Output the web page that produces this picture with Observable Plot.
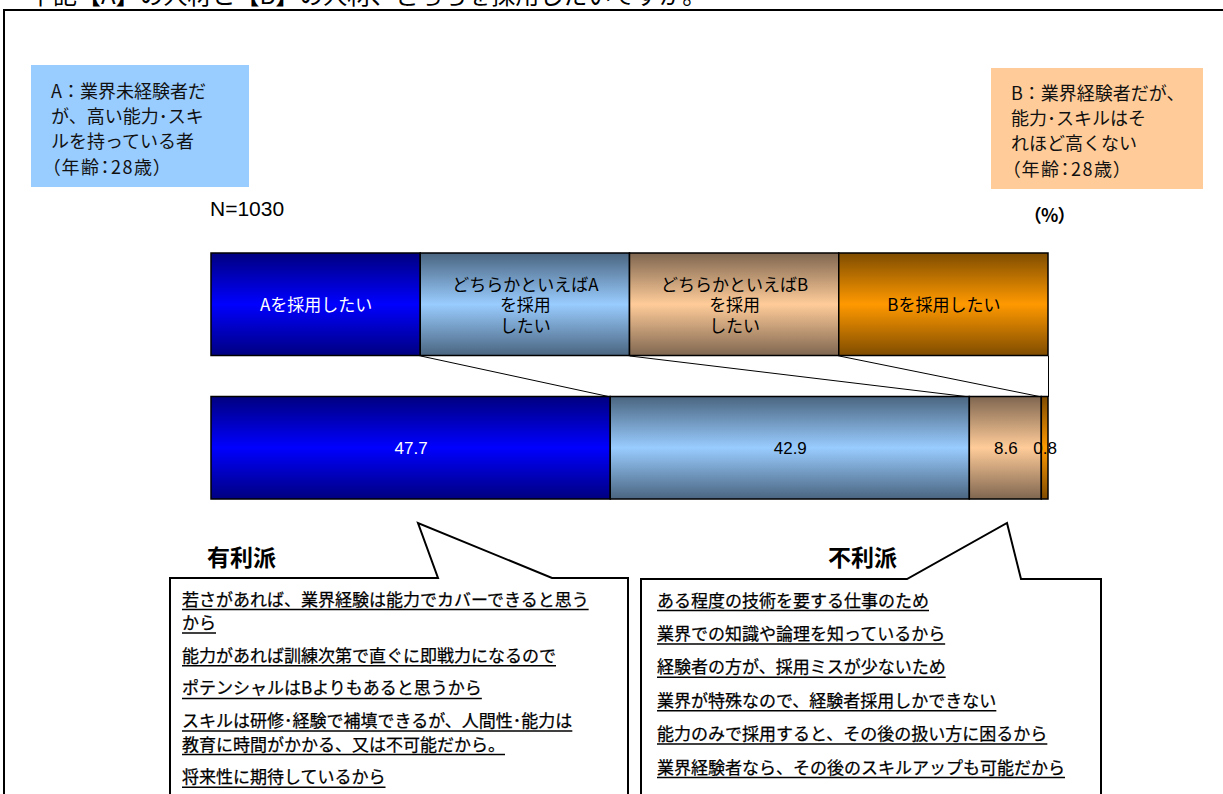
<!DOCTYPE html>
<html><head><meta charset="utf-8">
<script src="https://cdn.jsdelivr.net/npm/d3@7"></script>
<script src="https://cdn.jsdelivr.net/npm/@observablehq/plot@0.6"></script>
<style>
html,body{margin:0;padding:0;background:#fff;overflow:hidden}
#wrap{position:relative;width:1223px;height:794px;overflow:hidden;background:#fff}
#wrap > svg{position:absolute;left:0;top:0}
</style></head><body><div id="wrap"></div>
<script>
// ---------- data ----------
const title = "下記【A】の人材と【B】の人材、どちらを採用したいですか。";
const categories = ["Aを採用したい", "どちらかといえばAを採用したい", "どちらかといえばBを採用したい", "Bを採用したい"];
const legendLabels = ["Aを採用したい", "どちらかといえばA\nを採用\nしたい", "どちらかといえばB\nを採用\nしたい", "Bを採用したい"];
const values = [47.7, 42.9, 8.6, 0.8];
const barColors = [["#000080", "#0000FF"], ["#4A6580", "#99CCFF"], ["#7F6650", "#FFCC99"], ["#7F4C00", "#FF9900"]];
const labelColors = ["#ffffff", "#000000", "#000000", "#000000"];
const sampleLabel = "N=1030";
const unitLabel = "（%）";
const boxALines = ["A：業界未経験者だ", "が、高い能力･スキ", "ルを持っている者", "（年齢：28歳）"];
const boxBLines = ["B：業界経験者だが、", "能力･スキルはそ", "れほど高くない", "（年齢：28歳）"];
const proHeading = "有利派";
const conHeading = "不利派";
const proReasons = [
  ["若さがあれば、業界経験は能力でカバーできると思う", "から"],
  ["能力があれば訓練次第で直ぐに即戦力になるので"],
  ["ポテンシャルはBよりもあると思うから"],
  ["スキルは研修･経験で補填できるが、人間性･能力は", "教育に時間がかかる、又は不可能だから。"],
  ["将来性に期待しているから"]
];
const conReasons = [
  ["ある程度の技術を要する仕事のため"],
  ["業界での知識や論理を知っているから"],
  ["経験者の方が、採用ミスが少ないため"],
  ["業界が特殊なので、経験者採用しかできない"],
  ["能力のみで採用すると、その後の扱い方に困るから"],
  ["業界経験者なら、その後のスキルアップも可能だから"]
];

// ---------- derived rows ----------
const JP = "'Noto Sans CJK JP', 'Noto Sans', sans-serif";
const share = 100 / categories.length;
let acc = 0;
const rows = categories.map((c, i) => {
  const r = {cat: c, label: legendLabels[i], value: values[i], i,
    lx1: i * share, lx2: (i + 1) * share, dx1: acc, dx2: acc + values[i],
    fill: `url(#grad${i})`, color: labelColors[i]};
  acc += values[i];
  return r;
});
const links = rows.map(r => ({a: r.lx2, b: r.dx2}));

const defs = () => {
  const d = d3.create("svg:defs");
  barColors.forEach(([dark, light], i) => {
    const g = d.append("linearGradient").attr("id", `grad${i}`).attr("x1", 0).attr("x2", 0).attr("y1", 0).attr("y2", 1);
    g.append("stop").attr("offset", "0%").attr("stop-color", dark);
    g.append("stop").attr("offset", "50%").attr("stop-color", light);
    g.append("stop").attr("offset", "100%").attr("stop-color", dark);
  });
  return d.node();
};

const chart = Plot.plot({
  width: 1223, height: 794, margin: 0,
  style: {background: "transparent", fontFamily: JP},
  x: {domain: [0, 100], range: [211, 1048], axis: null},
  y: {domain: [0, 2.4], range: [253, 499], axis: null},
  color: {type: "identity"},
  marks: [
    defs,
    Plot.link(links, {x1: "a", x2: "b", y1: () => 1, y2: () => 1.4, stroke: "#000", strokeWidth: 1}),
    Plot.rect(rows, {x1: "lx1", x2: "lx2", y1: () => 0, y2: () => 1, fill: "fill", stroke: "#000", strokeWidth: 1.5}),
    Plot.rect(rows, {x1: "dx1", x2: "dx2", y1: () => 1.4, y2: () => 2.4, fill: "fill", stroke: "#000", strokeWidth: 1.5}),
    Plot.text(rows, {x: d => (d.lx1 + d.lx2) / 2, y: () => 0.5, text: "label", fill: "color", fontSize: 17, lineHeight: 1.2}),
    Plot.text(rows, {x: d => (d.dx1 + d.dx2) / 2, y: () => 1.9, text: d => d.value.toFixed(1), fill: "color", fontSize: 17, fontFamily: "'Liberation Sans Narrow', 'Liberation Sans', Arial, sans-serif"})
  ]
});
const wrap = document.getElementById("wrap");
wrap.appendChild(chart);

// ---------- annotations ----------
const svg = d3.create("svg").attr("width", 1223).attr("height", 794).style("font-family", JP);
wrap.appendChild(svg.node());

svg.append("path").attr("d", "M4,810 V10 H1240").attr("fill", "none").attr("stroke", "#000").attr("stroke-width", 2);
svg.append("text").attr("x", 29).attr("y", 4).attr("font-size", 24).text(title);

svg.append("rect").attr("x", 31).attr("y", 65).attr("width", 218).attr("height", 122).attr("fill", "#99CCFF");
svg.append("rect").attr("x", 991).attr("y", 68).attr("width", 212).attr("height", 121).attr("fill", "#FFCC99");
const boxText = (lines, x, y0) => lines.forEach((t, k) => {
  const tx = svg.append("text").attr("x", x).attr("y", y0 + k * 25.2).attr("font-size", 18).attr("fill", "#111").text(t);
  if (k === lines.length - 1) tx.style("font-feature-settings", "'palt'").attr("letter-spacing", 1.5);
});
boxText(boxALines, 51, 98);
boxText(boxBLines, 1011, 100);

svg.append("text").attr("x", 210).attr("y", 216).attr("font-size", 21).style("font-family", "'Liberation Sans', Arial, sans-serif").text(sampleLabel);
svg.append("text").attr("x", 1032).attr("y", 222).attr("font-size", 18).attr("font-weight", "bold").style("font-feature-settings", "'palt'").text(unitLabel);

// callouts
svg.append("path").attr("d", "M170,810 V578 H438 L418,523 L552,578 H628 V810").attr("fill", "#fff").attr("stroke", "#000").attr("stroke-width", 2);
svg.append("path").attr("d", "M641,810 V579 H907 L1007,523 L1021,579 H1101 V810").attr("fill", "#fff").attr("stroke", "#000").attr("stroke-width", 2);
svg.append("text").attr("x", 207).attr("y", 566).attr("font-size", 23).attr("font-weight", "bold").text(proHeading);
svg.append("text").attr("x", 828).attr("y", 566).attr("font-size", 23).attr("font-weight", "bold").text(conHeading);

const reasonList = (items, x, c0, within, between) => {
  let c = c0;
  items.forEach((lines, j) => {
    lines.forEach((t, k) => {
      if (k > 0) c += within;
      const base = c + 6.5;
      const tx = svg.append("text").attr("x", x).attr("y", base).attr("font-size", 17).attr("fill", "#000")
        .attr("stroke", "#000").attr("stroke-width", 0.25).text(t);
      const w = tx.node().getComputedTextLength();
      svg.append("line").attr("x1", x).attr("x2", x + w).attr("y1", base + 4).attr("y2", base + 4).attr("stroke", "#000").attr("stroke-width", 1.5);
    });
    c += between;
  });
};
reasonList(proReasons, 182, 599, 23.5, 32.7);
reasonList(conReasons, 657, 600, 23.5, 33.4);
</script></body></html>
